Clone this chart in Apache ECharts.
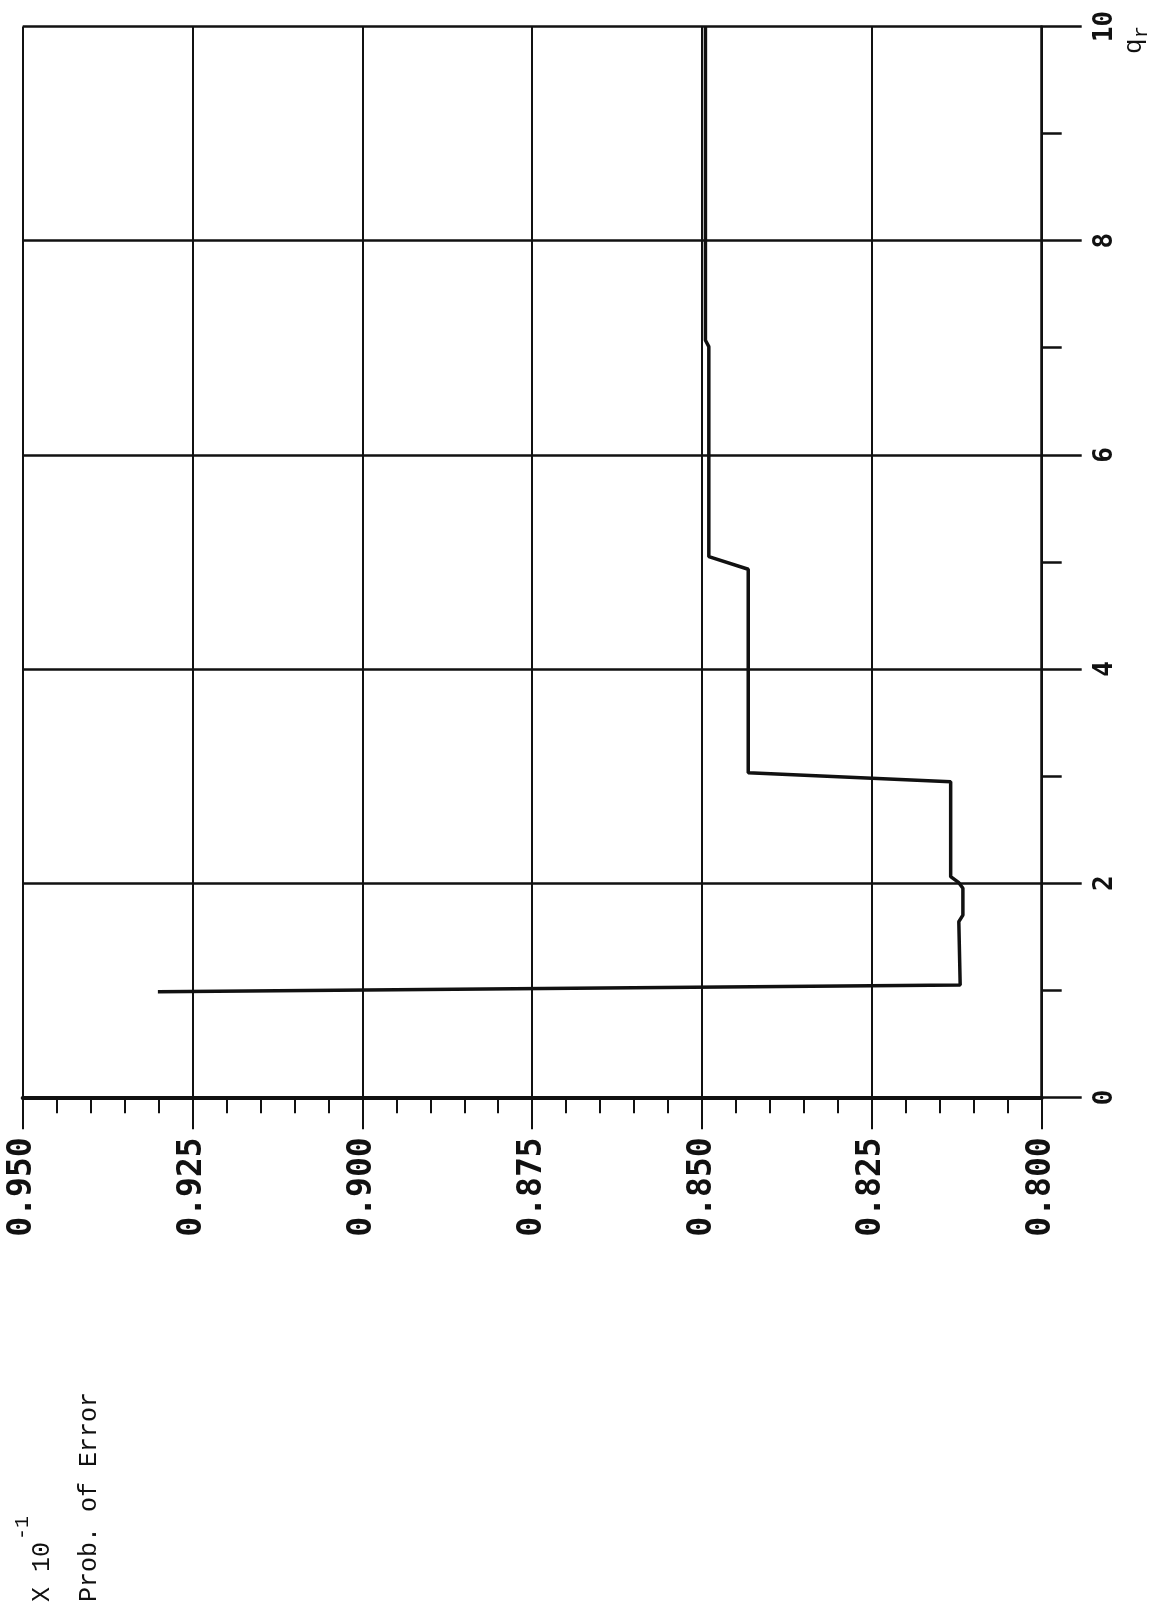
<!DOCTYPE html>
<html>
<head>
<meta charset="utf-8">
<title>Prob. of Error vs q_r</title>
<script src="https://cdn.jsdelivr.net/npm/echarts@6.0.0/dist/echarts.min.js"></script>
<style>
  html, body { margin: 0; padding: 0; background: #fff; }
  #chart { width: 1161px; height: 1612px; }
</style>
</head>
<body>
<div id="chart"></div>
<script>
// probability of error (x 10^-1) and q_r
var probValues = [0.9301, 0.8120, 0.8122, 0.8116, 0.8116, 0.8122, 0.8134, 0.8134,
                  0.8432, 0.8432, 0.8490, 0.8490, 0.8495, 0.8495];
var qValues = [0.986, 1.049, 1.640, 1.702, 1.952, 2.004, 2.060, 2.947,
               3.031, 4.931, 5.049, 7.010, 7.070, 10.0];
var probTicks = ["0.800", "0.825", "0.850", "0.875", "0.900", "0.925", "0.950"];
var qTicks = ["0", "2", "4", "6", "8", "10"];

var ink = "#111";
var chart = echarts.init(document.getElementById("chart"));

var points = probValues.map(function (p, i) {
  return [p, qValues[i]];
});

chart.setOption({
  backgroundColor: "#fff",
  animation: false,
  grid: {
    left: 22.7,
    right: 119.3,
    top: 26.5,
    bottom: 514.7,
    containLabel: false,
  },
  xAxis: {
    type: "value",
    min: 0.8,
    max: 0.95,
    interval: 0.025,
    inverse: true,
    axisLine: {
      show: true,
      onZero: false,
      lineStyle: { color: ink, width: 4 },
    },
    axisTick: {
      show: true,
      length: 32,
      lineStyle: { color: ink, width: 2 },
    },
    minorTick: {
      show: true,
      splitNumber: 5,
      length: 16,
      lineStyle: { color: ink, width: 2 },
    },
    splitLine: {
      show: true,
      lineStyle: { color: ink, width: 2 },
    },
    axisLabel: {
      rotate: 90,
      margin: 40,
      color: ink,
      fontFamily: "DejaVu Sans Mono",
      fontWeight: "bold",
      fontSize: 33,
      formatter: function (v) {
        var idx = Math.round((v - 0.8) / 0.025);
        return probTicks[idx];
      },
    },
  },
  yAxis: {
    type: "value",
    position: "right",
    min: 0,
    max: 10,
    interval: 2,
    axisLine: {
      show: true,
      onZero: false,
      lineStyle: { color: ink, width: 2.5 },
    },
    axisTick: {
      show: true,
      length: 40,
      lineStyle: { color: ink, width: 2.5 },
    },
    minorTick: {
      show: true,
      splitNumber: 2,
      length: 20,
      lineStyle: { color: ink, width: 2.5 },
    },
    splitLine: {
      show: true,
      lineStyle: { color: ink, width: 2.5 },
    },
    axisLabel: {
      rotate: 90,
      margin: 51,
      color: ink,
      fontFamily: "DejaVu Sans Mono",
      fontWeight: "bold",
      fontSize: 26,
      formatter: function (v) {
        return qTicks[Math.round(v / 2)];
      },
    },
  },
  graphic: [
    {
      type: "text",
      x: 42,
      y: 1602,
      rotation: Math.PI / 2,
      style: {
        text: "X 10",
        fill: ink,
        font: "25px 'Liberation Mono', monospace",
        align: "left",
        verticalAlign: "middle",
      },
    },
    {
      type: "text",
      x: 23,
      y: 1540,
      rotation: Math.PI / 2,
      style: {
        text: "-1",
        fill: ink,
        font: "20px 'Liberation Mono', monospace",
        align: "left",
        verticalAlign: "middle",
      },
    },
    {
      type: "text",
      x: 89,
      y: 1602,
      rotation: Math.PI / 2,
      style: {
        text: "Prob. of Error",
        fill: ink,
        font: "25px 'Liberation Mono', monospace",
        align: "left",
        verticalAlign: "middle",
      },
    },
    {
      type: "text",
      x: 1134,
      y: 54,
      rotation: Math.PI / 2,
      style: {
        text: "q",
        fill: ink,
        font: "26px 'Liberation Mono', monospace",
        align: "left",
        verticalAlign: "middle",
      },
    },
    {
      type: "text",
      x: 1142,
      y: 38,
      rotation: Math.PI / 2,
      style: {
        text: "r",
        fill: ink,
        font: "20px 'Liberation Mono', monospace",
        align: "left",
        verticalAlign: "middle",
      },
    },
  ],
  series: [
    {
      type: "line",
      data: points,
      showSymbol: false,
      lineStyle: { color: ink, width: 3.5 },
      z: 5,
    },
  ],
});
</script>
</body>
</html>
